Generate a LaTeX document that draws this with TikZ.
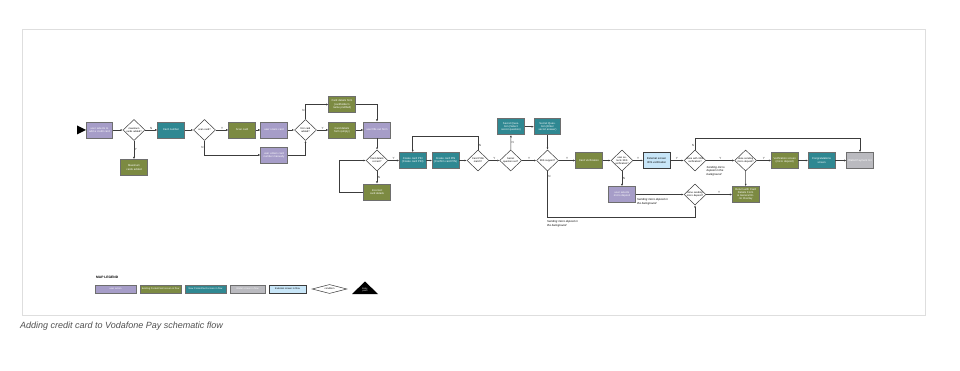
\documentclass[tikz,border=0pt]{standalone}
\usepackage{fontspec}
\setmainfont{Liberation Sans}
\usetikzlibrary{shapes.geometric,arrows.meta}
\definecolor{userc}{RGB}{166,157,200}
\definecolor{oldc}{RGB}{124,138,66}
\definecolor{newc}{RGB}{47,136,146}
\definecolor{walc}{RGB}{186,186,191}
\definecolor{extc}{RGB}{200,230,248}
\definecolor{bord}{RGB}{110,110,110}
\definecolor{linec}{RGB}{60,60,60}
\definecolor{capc}{RGB}{80,80,80}
\definecolor{framec}{RGB}{222,222,222}
\tikzset{
  boxbase/.style={draw=bord, line width=0.7, minimum width=26.5, minimum height=16, inner sep=0.3,
    text width=25, align=center, font=\fontsize{2.7}{3.2}\selectfont, text=white},
  ubox/.style={boxbase, fill=userc},
  obox/.style={boxbase, fill=oldc},
  nbox/.style={boxbase, fill=newc},
  wbox/.style={boxbase, fill=walc},
  ebox/.style={boxbase, fill=extc, draw=linec, text=black},
  condtxt/.style={text width=17, align=center, font=\fontsize{2.5}{3}\selectfont, text=black, inner sep=0},
  cond/.style={shape=diamond, draw=linec, line width=0.5, fill=white, minimum width=22, minimum height=21,
    inner sep=0, label={[condtxt]center:#1}},
  conn/.style={draw=linec, line width=0.5, -{Latex[length=2.2pt,width=2pt]}},
  yn/.style={font=\fontsize{3}{3.5}\selectfont, text=linec, inner sep=0.6},
  note/.style={font=\fontsize{2.8}{3.4}\selectfont\itshape, text=black, align=left, inner sep=0},
  lgbox/.style={minimum width=41, minimum height=8, text width=39, font=\fontsize{2.4}{2.8}\selectfont}
}
\begin{document}
\begin{tikzpicture}[x=1pt,y=-1pt]
\useasboundingbox (0,0) rectangle (960,371);
\draw[framec, line width=0.6] (22,29) rectangle (925,315);

% start triangle
\fill[black] (77,125.5) -- (86,130) -- (77,134.5) -- cycle;

% row 1
\node[ubox] (u1) at (99.5,130) {user selects to add a credit card};
\node[cond={maximum cards added?}] (d1) at (134,130) {};
\node[obox] (max) at (134,167.5) {Maximum cards added};
\node[nbox] (cn) at (171,130) {Card number};
\node[cond={scan card?}] (d2) at (204.5,130) {};
\node[obox] (sc) at (242,130) {Scan card};
\node[ubox] (usc) at (274,130) {user scans card};
\node[cond={first card added?}] (d3) at (305.5,130) {};
\node[ubox] (uem) at (274,155) {user enters card number manually};
\node[obox] (cdp) at (342,104.5) {Card details form (cardholder's name prefilled)};
\node[obox] (cde) at (342,130) {Card details form (empty)};
\node[ubox] (ufo) at (377,130) {user fills out form};
\node[cond={Card details correct?}] (d4) at (377,160.5) {};
\node[obox] (icd) at (377,192) {Incorrect card details};

% row 2
\node[nbox] (pin1) at (412.7,160.5) {Create card PIN (Create card PIN)};
\node[nbox] (pin2) at (445.6,160.5) {Create card PIN (Confirm card PIN)};
\node[cond={Card PINs match?}] (d5) at (478,160.5) {};
\node[cond={Secret question set?}] (d6) at (510.7,160.5) {};
\node[nbox] (sq1) at (511,126.7) {Secret Question (Select secret question)};
\node[nbox] (sq2) at (547.5,126.7) {Secret Question (Enter secret answer)};
\node[cond={3DS support?}] (d7) at (547.5,160.5) {};
\node[obox] (cv) at (589,160.5) {Card Verification};
\node[cond={user selects 3DS verification?}] (d8) at (622,160.5) {};
\node[ebox] (ext) at (656.6,160.5) {External screen 3DS verification};
\node[cond={done with 3DS verification?}] (d9) at (695,160.5) {};
\node[cond={done sending micro deposit?}] (d10) at (745.6,160.5) {};
\node[obox] (ver) at (784.7,160.5) {Verification screen (micro deposit)};
\node[nbox] (cong) at (821.6,160.5) {Congratulations screen};
\node[wbox] (wal) at (860,160.5) {Wallet Payment list};

% row 3
\node[ubox] (umd) at (622,194.5) {user selects micro deposit};
\node[cond={done sending micro deposit?}] (d11) at (695,194.5) {};
\node[obox] (ret) at (745.7,194.5) {Return with Card Details Form \& General Error Overlay};

% bend points
\coordinate (lp) at (339,192);
\coordinate (tp) at (478,136);
\coordinate (bt) at (547.5,217.5);
\coordinate (tt) at (695,138.5);

% connectors
\draw[conn] (u1) -- (d1);
\draw[conn] (d1) -- node[yn, above]{N} (cn);
\draw[conn] (d1) -- node[yn, right]{Y} (max);
\draw[conn] (cn) -- (d2);
\draw[conn] (d2) -- node[yn, above]{Y} (sc);
\draw[conn] (d2.south) |- node[yn, pos=0.25, left]{N} (uem.west);
\draw[conn] (sc) -- (usc);
\draw[conn] (usc) -- (d3);
\draw[conn] (uem.east) -| (d3.south);
\draw[conn] (d3.north) |- node[yn, pos=0.3, left]{N} (cdp.west);
\draw[conn] (d3) -- node[yn, above]{Y} (cde);
\draw[conn] (cdp.east) -| (ufo.north);
\draw[conn] (cde) -- (ufo);
\draw[conn] (ufo) -- (d4);
\draw[conn] (d4) -- node[yn, right]{N} (icd);
\draw[conn] (icd.west) -- (lp) |- (d4.west);
\draw[conn] (d4) -- node[yn, above]{Y} (pin1);
\draw[conn] (pin1) -- (pin2);
\draw[conn] (pin2) -- (d5);
\draw[conn] (d5.north) -- node[yn, pos=0.3, right]{N} (tp) -| (pin1.north);
\draw[conn] (d5) -- node[yn, above]{Y} (d6);
\draw[conn] (d6) -- node[yn, right]{N} (sq1);
\draw[conn] (sq1) -- (sq2);
\draw[conn] (sq2) -- (d7);
\draw[conn] (d6) -- node[yn, above]{Y} (d7);
\draw[conn] (d7) -- node[yn, above]{Y} (cv);
\draw[conn] (d7.south) -- node[yn, pos=0.12, right]{N} (bt) -| (d11.south);
\draw[conn] (cv) -- (d8);
\draw[conn] (d8) -- node[yn, above]{Y} (ext);
\draw[conn] (d8) -- node[yn, right]{N} (umd);
\draw[conn] (ext) -- node[yn, above]{Y} (d9);
\draw[conn] (d9) -- node[yn, above]{Y} (d10);
\draw[conn] (d9.north) -- node[yn, pos=0.4, left]{N} (tt) -| (wal.north);
\draw[conn] (d10) -- node[yn, above]{Y} (ver);
\draw[conn] (ver) -- (cong);
\draw[conn] (cong) -- (wal);
\draw[conn] (d10) -- (ret);
\draw[conn] (umd) -- (d11);
\draw[conn] (d11) -- node[yn, above]{Y} (ret);

% notes
\node[note, anchor=north west] (n1) at (547,220.5) {Sending micro deposit in\\the background};
\node[note, anchor=north west] (n2) at (637,198.5) {Sending micro deposit in\\the background};
\node[note, anchor=north west] (n3) at (706.5,166) {Sending micro\\deposit in the\\background};

% legend
\node[anchor=west, font=\fontsize{3.3}{4}\selectfont\bfseries, inner sep=0] (lgt) at (96,277) {MAP LEGEND};
\node[ubox, lgbox] (lg1) at (115.5,289) {user action};
\node[obox, lgbox] (lg2) at (160.5,289) {Existing PocketCard screen in flow};
\node[nbox, lgbox] (lg3) at (205.5,289) {New PocketCard screen in flow};
\node[wbox, lgbox, minimum width=35, text width=33] (lg4) at (247.5,289) {Wallet screen in flow};
\node[ebox, lgbox, minimum width=37, text width=35] (lg5) at (287.5,289) {External screen in flow};
\node[cond={condition}, minimum width=35, minimum height=9] (lg6) at (329.5,289) {};
\fill[black] (352,294) -- (365,281.5) -- (378,294) -- cycle;
\node[text=white, font=\fontsize{2.2}{2.5}\selectfont, align=center, inner sep=0] (lg7) at (365,290) {Entry\\point};

% caption
\node[anchor=west, inner sep=0, font=\fontsize{9}{11}\selectfont\itshape, text=capc] (cap) at (20,326) {Adding credit card to Vodafone Pay schematic flow};
\end{tikzpicture}
\end{document}
